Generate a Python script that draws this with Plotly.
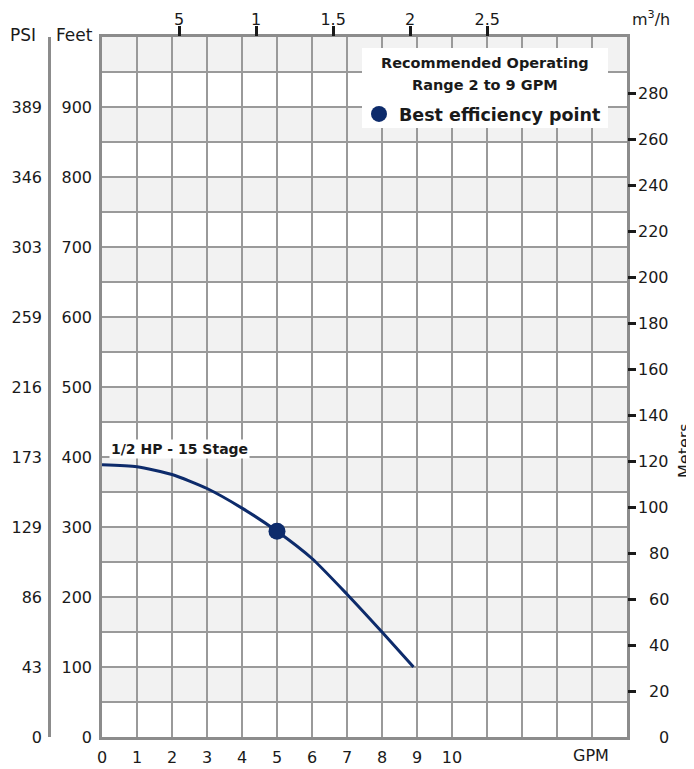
import plotly.graph_objects as go

# ---------------- data ----------------
gpm = [0, 1, 2, 3, 4, 5, 6, 7, 8, 8.9]
head_ft = [389, 386, 375, 355, 327, 294, 255, 204, 150, 100]
bep_gpm = [5.0]
bep_ft = [294]
curve_label = "1/2 HP - 15 Stage"
bep_label = "Best efficiency point"
range_lines = ["Recommended Operating", "Range 2 to 9 GPM"]

x_tickvals = list(range(0, 16))
x_ticktext = ["0", "1", "2", "3", "4", "5", "6", "7", "8", "9", "10", "", "", "", "", ""]
feet_tickvals = list(range(0, 1001, 50))
feet_ticktext = ["0", "", "100", "", "200", "", "300", "", "400", "", "500", "",
                 "600", "", "700", "", "800", "", "900", "", ""]
psi_tickvals = [0, 100, 200, 300, 400, 500, 600, 700, 800, 900]
psi_ticktext = ["0", "43", "86", "129", "173", "216", "259", "303", "346", "389"]
meter_labels = [0, 20, 40, 60, 80, 100, 120, 140, 160, 180, 200, 220, 240, 260, 280]
meter_ticks = [20, 40, 60, 80, 100, 120, 140, 160, 180, 200, 220, 240, 260, 280]
m3h_tickvals = [0.5, 1, 1.5, 2, 2.5]
m3h_ticktext = ["5", "1", "1.5", "2", "2.5"]

GPM_MAX = 15
FT_MAX = 1000
FT_TO_M = 0.3048
GPM_TO_M3H = 0.2271247

# ---------------- style ----------------
OFF = 8                      # page body margin
W, H = 694 - OFF, 769 - OFF
PLOT_L, PLOT_R, PLOT_T, PLOT_B = 102, 627, 37, 737   # in window pixels
MT = PLOT_T - OFF
MB = H - (PLOT_B - OFF)
FONT = "DejaVu Sans"
TXT = "#1a1a1a"
NAVY = "#0d2b6b"
GRID = "#9a9a9a"
BORDER = "#8c8c8c"
BAND = "#f2f2f2"

def px_x(p):
    return (p - OFF) / W

def px_y(p):
    return (PLOT_B - p) / (PLOT_B - PLOT_T)

fig = go.Figure()

fig.add_trace(go.Scatter(
    x=gpm, y=head_ft, mode="lines", line=dict(color=NAVY, width=3, shape="spline", smoothing=0.6),
    showlegend=False, hoverinfo="skip"))
fig.add_trace(go.Scatter(
    x=bep_gpm, y=bep_ft, mode="markers", marker=dict(color=NAVY, size=17),
    name="<b>" + bep_label + "</b>", showlegend=True))
# empty traces to activate secondary axes
fig.add_trace(go.Scatter(x=[], y=[], xaxis="x2", yaxis="y", showlegend=False, hoverinfo="skip"))
fig.add_trace(go.Scatter(x=[], y=[], xaxis="x", yaxis="y2", showlegend=False, hoverinfo="skip"))
fig.add_trace(go.Scatter(x=[], y=[], xaxis="x", yaxis="y3", showlegend=False, hoverinfo="skip"))

# shaded horizontal bands
shapes = []
for y0 in range(50, FT_MAX, 100):
    shapes.append(dict(type="rect", xref="x", yref="y", x0=0, x1=GPM_MAX, y0=y0, y1=y0 + 50,
                       fillcolor=BAND, line=dict(width=0), layer="below"))
# white legend box
shapes.append(dict(type="rect", xref="paper", yref="paper",
                   x0=px_x(362), x1=px_x(608), y0=px_y(128), y1=px_y(48),
                   fillcolor="white", line=dict(width=0), layer="above"))

tickfont = dict(family=FONT, size=16, color=TXT)

annotations = [
    dict(text="PSI", xref="paper", yref="paper", x=px_x(23), y=px_y(35), showarrow=False,
         font=dict(family=FONT, size=17, color=TXT), xanchor="center", yanchor="middle"),
    dict(text="Feet", xref="paper", yref="paper", x=px_x(74), y=px_y(35), showarrow=False,
         font=dict(family=FONT, size=17, color=TXT), xanchor="center", yanchor="middle"),
    dict(text="m<sup>3</sup>/h", xref="paper", yref="paper", x=px_x(651), y=px_y(18), showarrow=False,
         font=dict(family=FONT, size=16, color=TXT), xanchor="center", yanchor="middle"),
    dict(text="GPM", xref="paper", yref="paper", x=px_x(591), y=px_y(755), showarrow=False,
         font=dict(family=FONT, size=16, color=TXT), xanchor="center", yanchor="middle"),
    dict(text="Meters", xref="paper", yref="paper", x=px_x(684), y=px_y(451), showarrow=False,
         textangle=-90, font=dict(family=FONT, size=16, color=TXT), xanchor="center", yanchor="middle"),
    dict(text="<b>" + curve_label + "</b>", xref="x", yref="y", x=0.2, y=411, showarrow=False,
         font=dict(family=FONT, size=14, color=TXT), xanchor="left", yanchor="middle",
         bgcolor="white", borderpad=1),
    dict(text="<b>" + range_lines[0] + "</b>", xref="paper", yref="paper", x=px_x(485), y=px_y(63),
         showarrow=False, font=dict(family=FONT, size=14.5, color=TXT), xanchor="center", yanchor="middle"),
    dict(text="<b>" + range_lines[1] + "</b>", xref="paper", yref="paper", x=px_x(485), y=px_y(85),
         showarrow=False, font=dict(family=FONT, size=14.5, color=TXT), xanchor="center", yanchor="middle"),
]
# right-aligned meter labels, positioned through the meters axis
for m in meter_labels:
    annotations.append(dict(text=str(m), xref="paper", yref="y2", x=px_x(671), y=m, showarrow=False,
                            font=tickfont, xanchor="right", yanchor="middle"))

fig.update_layout(
    width=W, height=H,
    margin=dict(l=0, r=0, t=MT, b=MB, autoexpand=False),
    paper_bgcolor="white", plot_bgcolor="white",
    font=dict(family=FONT, color=TXT, size=16),
    shapes=shapes,
    annotations=annotations,
    xaxis=dict(domain=[px_x(PLOT_L), px_x(PLOT_R)], range=[0, GPM_MAX],
               tickmode="array", tickvals=x_tickvals, ticktext=x_ticktext,
               ticks="", showgrid=True, gridcolor=GRID, gridwidth=1.5,
               showline=True, mirror=True, linecolor=BORDER, linewidth=2.5,
               zeroline=False, tickfont=tickfont, ticklabelstandoff=4, automargin=False),
    yaxis=dict(range=[0, FT_MAX], tickmode="array", tickvals=feet_tickvals, ticktext=feet_ticktext,
               ticks="", showgrid=True, gridcolor=GRID, gridwidth=1.5,
               showline=True, mirror=True, linecolor=BORDER, linewidth=2.5,
               zeroline=False, tickfont=tickfont, ticklabelstandoff=4, automargin=False),
    xaxis2=dict(overlaying="x", side="top", anchor="y", range=[0, GPM_MAX * GPM_TO_M3H],
                tickmode="array", tickvals=m3h_tickvals, ticktext=m3h_ticktext,
                ticks="outside", ticklen=10, tickwidth=2.5, tickcolor=TXT,
                showgrid=False, showline=False, zeroline=False, tickfont=tickfont,
                ticklabelstandoff=-5, automargin=False),
    yaxis2=dict(overlaying="y", side="right", anchor="x", range=[0, FT_MAX * FT_TO_M],
                tickmode="array", tickvals=meter_ticks, showticklabels=False,
                ticks="outside", ticklen=8, tickwidth=2.5, tickcolor=TXT,
                showgrid=False, showline=False, zeroline=False,
                automargin=False),
    yaxis3=dict(overlaying="y", side="left", anchor="free", position=px_x(49), range=[0, FT_MAX],
                tickmode="array", tickvals=psi_tickvals, ticktext=psi_ticktext,
                ticks="", showgrid=False, showline=True, linecolor=BORDER, linewidth=2.5,
                zeroline=False, tickfont=tickfont, ticklabelstandoff=3, automargin=False),
    legend=dict(x=px_x(359), xanchor="left", y=px_y(114), yanchor="middle",
                bgcolor="rgba(0,0,0,0)", borderwidth=0,
                font=dict(family=FONT, size=17.5, color=TXT), itemsizing="trace"),
)

fig.write_html("out.html")
